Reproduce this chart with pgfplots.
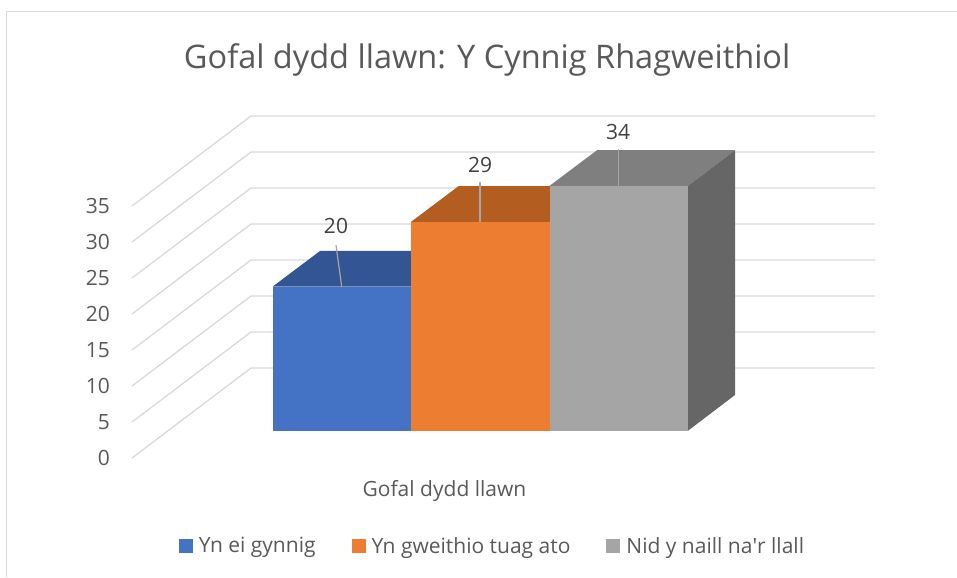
\documentclass[border=0pt]{standalone}
\usepackage{fontspec}
\setmainfont{Open Sans}
\usepackage{pgfplots}
\pgfplotsset{compat=1.18}
\definecolor{txt}{HTML}{595959}
\definecolor{lbl}{HTML}{404040}
\definecolor{gridc}{HTML}{D9D9D9}
\definecolor{cblue}{HTML}{4472C4}
\definecolor{corange}{HTML}{ED7D31}
\definecolor{cgray}{HTML}{A5A5A5}
\definecolor{tblue}{HTML}{335593}
\definecolor{torange}{HTML}{B35E20}
\definecolor{tgray}{HTML}{7F7F7F}
\definecolor{sgray}{HTML}{666666}
\definecolor{leader}{HTML}{A6A6A6}
\pgfplotsset{
  base/.style={
    scale only axis, width=957pt, height=577pt,
    xmin=0, xmax=957,
    axis line style={draw=none},
    major tick length=0pt,
    tick style={draw=none},
  },
}
\begin{document}
\begin{tikzpicture}
% Back walls, gridlines and the value axis
\begin{axis}[base,
  ymin=-16.528, ymax=63.611,
  ytick={0,5,...,35},
  xtick=\empty,
  /pgf/number format/assume math mode=true,
  yticklabel style={anchor=east, inner sep=0pt, xshift=110pt, text=txt,
    font=\fontsize{21}{25}\selectfont},
  title={Gofal dydd llawn: Y Cynnig Rhagweithiol},
  title style={at={(0.509,0.8860)}, anchor=center, text=txt, inner sep=0pt,
    font=\fontsize{32.5}{38}\selectfont},
]
\addplot[gridc, line width=1.2pt] coordinates {(6.5,-16.528) (6.5,62.01) (957,62.01)};
\addplot[gridc, line width=1.3pt] coordinates {(132,0) (251,12.5) (875,12.5)};
\addplot[gridc, line width=1.3pt] coordinates {(132,5) (251,17.5) (875,17.5)};
\addplot[gridc, line width=1.3pt] coordinates {(132,10) (251,22.5) (875,22.5)};
\addplot[gridc, line width=1.3pt] coordinates {(132,15) (251,27.5) (875,27.5)};
\addplot[gridc, line width=1.3pt] coordinates {(132,20) (251,32.5) (875,32.5)};
\addplot[gridc, line width=1.3pt] coordinates {(132,25) (251,37.5) (875,37.5)};
\addplot[gridc, line width=1.3pt] coordinates {(132,30) (251,42.5) (875,42.5)};
\addplot[gridc, line width=1.3pt] coordinates {(132,35) (251,47.5) (875,47.5)};
\end{axis}
% Bars
\begin{axis}[base,
  ymin=-20.319, ymax=59.819,
  ytick=\empty,
  xtick={444.5}, xticklabels={Gofal dydd llawn},
  xticklabel style={yshift=100pt, text=txt, font=\fontsize{21}{25}\selectfont},
  legend columns=3,
  legend style={at={(0.5146,0.0537)}, anchor=center, draw=none, fill=none,
    font=\fontsize{21}{25}\selectfont, text=txt,
    /tikz/every even column/.append style={column sep=34pt},
    /tikz/every odd column/.append style={column sep=4pt},
    inner sep=0pt, outer sep=0pt},
  legend image code/.code={\fill[#1] (0pt,-7pt) rectangle (14pt,7pt);},
]
\addplot[fill=tblue, draw=none, forget plot] coordinates {(272.5,20) (411,20) (458.5,24.96) (320,24.96)} --cycle;
\addplot[ybar, bar shift=0pt, bar width=138.5, fill=cblue, draw=none] coordinates {(341.75,20)};
\addlegendentry{Yn ei gynnig}
\addplot[fill=torange, draw=none, forget plot] coordinates {(411,29) (549.5,29) (597,33.96) (458.5,33.96)} --cycle;
\addplot[ybar, bar shift=0pt, bar width=138.5, fill=corange, draw=none] coordinates {(480.25,29)};
\addlegendentry{Yn gweithio tuag ato}
\addplot[fill=tgray, draw=none, forget plot] coordinates {(549.5,34) (688,34) (735,38.96) (597,38.96)} --cycle;
\addplot[fill=sgray, draw=none, forget plot] coordinates {(688,0) (735,4.96) (735,38.96) (688,34)} --cycle;
\addplot[ybar, bar shift=0pt, bar width=138.5, fill=cgray, draw=none] coordinates {(618.75,34)};
\addlegendentry{Nid y naill na\textquotesingle r llall}
\addplot[leader, line width=1.2pt, forget plot] coordinates {(341.7,20) (336,25.79)};
\addplot[leader, line width=1.2pt, forget plot] coordinates {(480,29) (480,34.5)};
\addplot[leader, line width=1.2pt, forget plot] coordinates {(618.3,34) (618.3,39.08)};
\node[text=lbl, font=\fontsize{21}{25}\selectfont] at (axis cs:336,28.43) {20};
\node[text=lbl, font=\fontsize{21}{25}\selectfont] at (axis cs:480,36.97) {29};
\node[text=lbl, font=\fontsize{21}{25}\selectfont] at (axis cs:618,41.49) {34};
\end{axis}
\end{tikzpicture}
\end{document}
